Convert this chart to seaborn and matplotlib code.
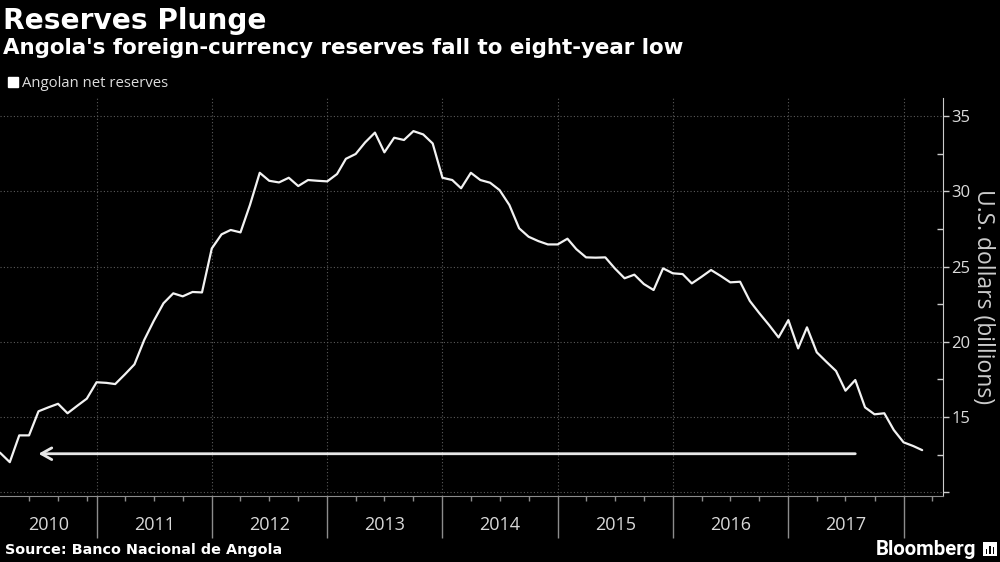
import matplotlib.pyplot as plt
import matplotlib.dates as mdates
import matplotlib.transforms as mtransforms
from matplotlib.patches import Patch, Rectangle
import pandas as pd
import seaborn as sns

# Monthly Angolan net reserves, USD billions (Mar 2010 - Mar 2018)
months = pd.date_range('2010-03-01', periods=97, freq='MS')
reserves = [
    12.63, 12.0, 13.78, 13.78, 15.38, 15.64, 15.88, 15.25, 15.75, 16.22,
    17.31, 17.27, 17.19, 17.84, 18.5, 20.12, 21.38, 22.56, 23.22, 23.02, 23.31, 23.28,
    26.2, 27.14, 27.43, 27.27, 29.09, 31.23, 30.7, 30.59, 30.9, 30.35, 30.75, 30.7,
    30.66, 31.15, 32.16, 32.48, 33.25, 33.9, 32.59, 33.56, 33.41, 34.0, 33.78, 33.18,
    30.9, 30.75, 30.2, 31.23, 30.75, 30.57, 30.08, 29.09, 27.54, 26.98, 26.69, 26.47,
    26.47, 26.85, 26.16, 25.61, 25.59, 25.61, 24.88, 24.22, 24.46, 23.84, 23.44, 24.88,
    24.55, 24.5, 23.88, 24.32, 24.77, 24.37, 23.95, 23.99, 22.71, 21.9, 21.11, 20.29,
    21.44, 19.56, 20.96, 19.3, 18.68, 18.06, 16.75, 17.46, 15.64, 15.18, 15.25, 14.14,
    13.32, 13.07, 12.8,
]
year_labels = ['2010', '2011', '2012', '2013', '2014', '2015', '2016', '2017']
y_ticks = [10, 15, 20, 25, 30, 35]
y_tick_labels = ['', '15', '20', '25', '30', '35']

# arrow marking the eight-year low
arrow_level = 12.56
arrow_start = pd.Timestamp('2017-08-01')
arrow_end = pd.Timestamp('2010-07-01')

df = pd.DataFrame({'month': months, 'reserves': reserves})

sns.set_style('dark', {'axes.facecolor': 'black', 'figure.facecolor': 'black'})
plt.rcParams['font.family'] = ['Open Sans', 'DejaVu Sans']

fig = plt.figure(figsize=(10, 5.62), dpi=100)
ax = fig.add_axes([0, 0.1174, 0.943, 0.7082])

sns.lineplot(data=df, x='month', y='reserves', ax=ax, color='#f2f2f2', lw=1.6)

x_left = pd.Timestamp('2010-03-01')
x_right = pd.Timestamp('2018-05-06')
ax.set_xlim(x_left, x_right)
ax.set_ylim(9.75, 36.2)

# x axis: year separators + quarter ticks
year_starts = pd.date_range('2011-01-01', '2018-01-01', freq='YS')
quarters = [pd.Timestamp(d) for d in ['2010-06-01', '2010-09-01', '2010-12-01']]
quarters += [d for d in pd.date_range('2011-01-01', '2018-04-01', freq='QS')
             if d.month != 1]
ax.set_xticks(year_starts)
ax.set_xticklabels([''] * len(year_starts))
ax.set_xticks(quarters, minor=True)
ax.tick_params(axis='x', which='major', direction='out', length=30, width=1,
               color='#8c8c8c', bottom=True)
ax.tick_params(axis='x', which='minor', direction='out', length=3.5, width=1,
               color='#8c8c8c', bottom=True)

trans = mtransforms.blended_transform_factory(ax.transData, ax.transAxes)
for lab in year_labels:
    start = max(pd.Timestamp(lab + '-01-01'), x_left)
    end = pd.Timestamp(str(int(lab) + 1) + '-01-01')
    mid = start + (end - start) / 2
    ax.text(mdates.date2num(mid), -0.073, lab, transform=trans, ha='center',
            va='center', fontsize=13, color='#d9d9d9')

# y axis on the right
ax.yaxis.tick_right()
ax.yaxis.set_label_position('right')
ax.set_yticks(y_ticks)
ax.set_yticklabels(y_tick_labels)
ax.set_yticks([12.5, 17.5, 22.5, 27.5, 32.5], minor=True)
ax.tick_params(axis='y', which='major', direction='out', length=4, width=1,
               color='#cccccc', labelsize=12, labelcolor='#dddddd', pad=2,
               right=True)
ax.tick_params(axis='y', which='minor', direction='in', length=4, width=1,
               color='#cccccc', right=True)
ax.set_ylabel('U.S. dollars (billions)', rotation=270, fontsize=16.5,
              color='#cccccc', labelpad=18)
ax.set_xlabel('')

ax.grid(True, which='major', axis='both', color='#5a5a5a', linestyle=(0, (1, 2)),
        linewidth=0.8)

for side in ['left', 'top']:
    ax.spines[side].set_visible(False)
ax.spines['right'].set_color('#cccccc')
ax.spines['bottom'].set_color('#8c8c8c')

ax.annotate('', xy=(arrow_end, arrow_level), xytext=(arrow_start, arrow_level),
            arrowprops=dict(arrowstyle='->,head_length=0.75,head_width=0.42',
                            color='#e8e8e8', lw=2, shrinkA=0, shrinkB=0))

# legend
leg = ax.legend(handles=[Patch(facecolor='white', edgecolor='white')],
                labels=['Angolan net reserves'], loc='center left',
                bbox_to_anchor=(0.008, 0.851), bbox_transform=fig.transFigure,
                frameon=False, handlelength=0.65, handleheight=0.65,
                handletextpad=0.3, borderpad=0, borderaxespad=0, fontsize=10.7)
for t in leg.get_texts():
    t.set_color('#dddddd')

# titles and footer
fig.text(0.003, 0.963, 'Reserves Plunge', fontsize=20.2, fontweight='bold',
         family='DejaVu Sans', color='white', va='center', ha='left')
fig.text(0.003, 0.914, "Angola's foreign-currency reserves fall to eight-year low",
         fontsize=15.4, fontweight='bold', family='DejaVu Sans', color='white',
         va='center', ha='left')
fig.text(0.005, 0.021, 'Source: Banco Nacional de Angola', fontsize=10.4,
         fontweight='bold', family='DejaVu Sans', color='white', va='center',
         ha='left')
fig.text(0.976, 0.023, 'Bloomberg', fontsize=14.7, fontweight='bold',
         family='Roboto', color='white', va='center', ha='right')

# small Bloomberg logo mark
fig.patches.append(Rectangle((0.983, 0.01), 0.014, 0.026, transform=fig.transFigure,
                             facecolor='white', edgecolor='none', figure=fig))
for i, h in enumerate([0.008, 0.014, 0.011]):
    fig.patches.append(Rectangle((0.9855 + i * 0.0035, 0.015), 0.0017, h,
                                 transform=fig.transFigure, facecolor='black',
                                 edgecolor='none', figure=fig))

fig.savefig('out.png', dpi=100, facecolor='black')
